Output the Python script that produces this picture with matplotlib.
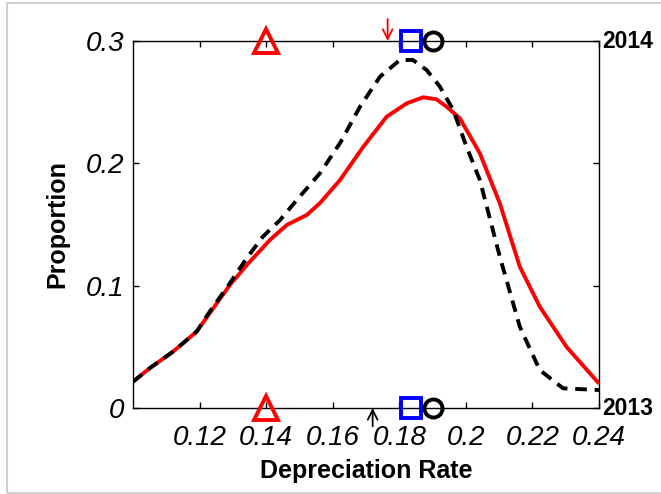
import matplotlib
matplotlib.use("Agg")
import matplotlib.pyplot as plt
from matplotlib.patches import Rectangle

plt.rcParams['font.family'] = ['Liberation Sans', 'DejaVu Sans']

# Data
red_x = [0.1000, 0.1051, 0.1120, 0.1191, 0.1231, 0.1291, 0.1342, 0.1411, 0.1462, 0.1522,
         0.1562, 0.1622, 0.1692, 0.1762, 0.1822, 0.1872, 0.1912, 0.1942, 0.1982, 0.2042,
         0.2102, 0.2162, 0.2222, 0.2302, 0.2400]
red_y = [0.0215, 0.0327, 0.0460, 0.0624, 0.0777, 0.1005, 0.1169, 0.1373, 0.1496, 0.1578,
         0.1676, 0.1864, 0.2136, 0.2381, 0.2490, 0.2540, 0.2523, 0.2463, 0.2368, 0.2082,
         0.1673, 0.1155, 0.0828, 0.0501, 0.0200]

black_x = [0.1000, 0.1051, 0.1120, 0.1191, 0.1231, 0.1291, 0.1342, 0.1390, 0.1442, 0.1492,
           0.1562, 0.1622, 0.1682, 0.1742, 0.1802, 0.1841, 0.1882, 0.1922, 0.1962, 0.2002,
           0.2042, 0.2102, 0.2162, 0.2222, 0.2292, 0.2400]
black_y = [0.0215, 0.0327, 0.0460, 0.0624, 0.0790, 0.1020, 0.1226, 0.1400, 0.1537, 0.1700,
           0.1920, 0.2166, 0.2463, 0.2708, 0.2845, 0.2845, 0.2763, 0.2627, 0.2436, 0.2136,
           0.1864, 0.1237, 0.0665, 0.0310, 0.0161, 0.0147]

triangle_x = 0.14
square_x = 0.1834
circle_x = 0.190
red_arrow_x = 0.1765
black_arrow_x = 0.172

xticks = [0.12, 0.14, 0.16, 0.18, 0.20, 0.22, 0.24]
xticklabels = ['0.12', '0.14', '0.16', '0.18', '0.2', '0.22', '0.24']
yticks = [0, 0.1, 0.2, 0.3]
yticklabels = ['0', '0.1', '0.2', '0.3']

fig = plt.figure(figsize=(6.61, 4.94), dpi=100)
ax = fig.add_axes([133/661, 1 - 408/494, (599-133)/661, (408-41)/494])

ax.plot(red_x, red_y, color='#ff0000', lw=2.8, solid_capstyle='butt')
ax.plot(black_x, black_y, color='black', lw=2.8, ls=(0, (3, 2)))

for yv in (0, 0.3):
    ax.plot([triangle_x], [yv], marker='^', ms=17, mfc='none', mec='#ff0000', mew=2.8,
            clip_on=False, zorder=5)
    ax.plot([square_x], [yv], marker='s', ms=14, mfc='none', mec='#0000ff', mew=2.8,
            clip_on=False, zorder=5)
    ax.plot([circle_x], [yv], marker='o', ms=13, mfc='none', mec='black', mew=2.8,
            clip_on=False, zorder=5)

astyle = '->, head_length=0.7, head_width=0.35'
ax.annotate('', xy=(red_arrow_x, 0.3), xytext=(red_arrow_x, 0.318),
            arrowprops=dict(arrowstyle=astyle, color='#ff0000', lw=1.3,
                            shrinkA=0, shrinkB=0), annotation_clip=False)
ax.annotate('', xy=(black_arrow_x, 0.0), xytext=(black_arrow_x, -0.015),
            arrowprops=dict(arrowstyle=astyle, color='black', lw=1.3,
                            shrinkA=0, shrinkB=0), annotation_clip=False)

ax.set_xlim(0.1, 0.24)
ax.set_ylim(0, 0.3)
ax.set_xticks(xticks)
ax.set_xticklabels(xticklabels, fontsize=20, style='italic')
ax.set_yticks(yticks)
ax.set_yticklabels(yticklabels, fontsize=20, style='italic')
ax.tick_params(direction='in', length=4, width=1, top=True, right=True, pad=6)
ax.tick_params(axis='x', pad=12)
for s in ax.spines.values():
    s.set_linewidth(1.0)

ax.set_xlabel('Depreciation Rate', fontsize=18, fontweight='bold', labelpad=6)
ax.set_ylabel('Proportion', fontsize=18, fontweight='bold', labelpad=12)

ax.text(1.006, 1.0, '2014', transform=ax.transAxes, fontsize=16.5, fontweight='bold',
        ha='left', va='center')
ax.text(1.006, 0.0, '2013', transform=ax.transAxes, fontsize=16.5, fontweight='bold',
        ha='left', va='center')

fig.patches.append(Rectangle((7/661, 1/494), 1.0, 490/494, transform=fig.transFigure,
                             fill=False, edgecolor='#d0d0d0', lw=1.5))

fig.savefig('out.png', dpi=100)
